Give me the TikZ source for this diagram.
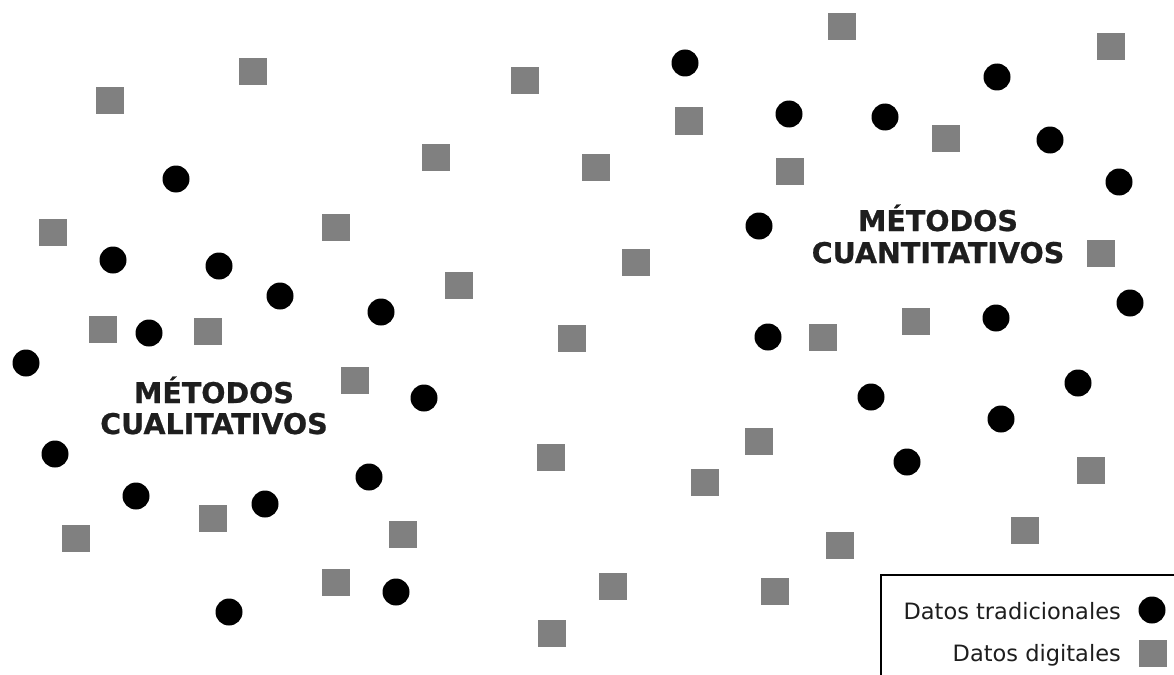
\documentclass[tikz,border=0pt]{standalone}
\usepackage{fontspec}
\setmainfont{DejaVu Sans}
\newfontfamily\heavyfont[FakeBold=0.8]{DejaVu Sans Bold}
\definecolor{sqgray}{HTML}{808080}
\definecolor{labelink}{HTML}{1E1E1E}
\begin{document}
\begin{tikzpicture}[x=1pt,y=-1pt,
  dot/.style={circle,fill=black,draw=none,minimum size=27pt,inner sep=0pt},
  sq/.style={rectangle,fill=sqgray,draw=none,minimum width=28.5pt,minimum height=27pt,inner sep=0pt},
  biglabel/.style={anchor=base,inner sep=0pt,text=labelink,font=\heavyfont\fontsize{28.5}{31}\selectfont},
  legtext/.style={anchor=base east,inner sep=0pt,text=labelink,font=\fontsize{22.5}{26}\selectfont}]
\useasboundingbox (0,0) rectangle (1174,674);
\fill[white] (0,0) rectangle (1174,674);
% squares (datos digitales)
\foreach \x/\y [count=\i] in {110/101,253/72,53/232,336/227,103/329,208/331,436/157,459/285,355/380,76/538,213/518,403/534,336/582,525/81,596/167,636/262,572/338,551/457,613/586,552/633,689/121,790/171,842/27,946/138,1111/47,1101/253,823/337,916/321,759/441,705/482,840/545,775/591,1025/530,1091/470}
  \node[sq] (s\i) at (\x,\y) {};
% circles (datos tradicionales)
\foreach \x/\y [count=\i] in {176/179,113/260,219/266,280/296,149/333,381/312,26/363,424/398,55/454,136/496,265/504,369/477,229/612,396/592,685/63,789/114,885/117,997/77,1050/140,1119/182,759/226,1130/303,996/318,768/337,871/397,1078/383,1001/419,907/462}
  \node[dot] (c\i) at (\x,\y) {};
% labels
\node[biglabel] (ql1) at (214,403) {MÉTODOS};
\node[biglabel] (ql2) at (214,434) {CUALITATIVOS};
\node[biglabel] (qn1) at (938,231) {MÉTODOS};
\node[biglabel] (qn2) at (938,263) {CUANTITATIVOS};
% legend
\draw[line width=2pt,black] (1180,575) -- (881,575) -- (881,680);
\node[legtext] (lt1) at (1121,619) {Datos tradicionales};
\node[legtext] (lt2) at (1121,661) {Datos digitales};
\node[dot] (lc) at (1152,610) {};
\node[sq] (ls) at (1153,653) {};
\end{tikzpicture}
\end{document}
